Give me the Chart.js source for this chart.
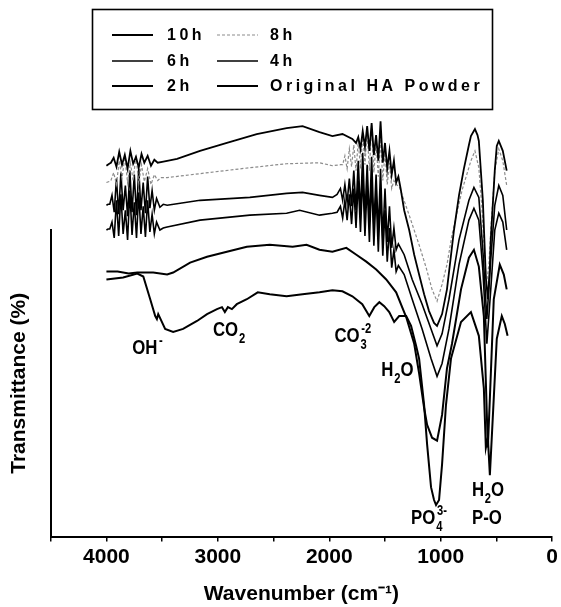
<!DOCTYPE html>
<html>
<head>
<meta charset="utf-8">
<script src="https://cdn.jsdelivr.net/npm/chart.js@4"></script>
<style>
  html, body { margin: 0; padding: 0; background: #fff; }
  #wrap { width: 561px; height: 607px; }
</style>
</head>
<body>
<div id="wrap"><canvas id="ftir"></canvas></div>
<script>
// FTIR spectra, [wavenumber cm-1, transmittance (offset, a.u.)]
const seriesLabels = ["10h", "8h", "6h", "4h", "2h", "Original HA Powder"];

const h10 = [
  [4000,375],[3975,377],
  [3960,378],[3935,383],[3910,374],[3885,389],[3860,376],[3835,386],[3810,372],[3785,390],[3760,377],[3735,384],
  [3710,373],[3685,387],[3660,378],[3630,385],[3600,375],[3570,381],[3540,378],[3500,379],
  [3455,380],[3366,382],[3160,390],[2919,398],[2651,407],[2383,413],[2240,415],[2088,409],[1972,405],[1882,407],[1793,402],
  [1760,398],[1740,404],[1720,392],[1700,410],[1680,394],[1660,415],[1640,390],[1620,418],[1600,386],[1580,406],
  [1560,380],[1540,420],[1520,378],[1500,398],[1480,372],[1460,390],[1440,366],[1420,380],[1400,358],[1380,364],[1360,352],
  [1328,330],[1283,310],[1238,285],[1194,265],[1149,245],[1105,228],[1060,216],[1033,213],[988,225],[944,250],
  [881,310],[836,345],[792,372],[747,396],[729,405],[693,412],[670,406],[658,400],[622,340],[595,262],[577,240],
  [560,270],[551,300],[515,370],[497,395],[479,400],[443,390],[408,370]
];

const h8 = [
  [4000,358],[3975,359],
  [3960,360],[3935,368],[3910,356],[3885,380],[3860,362],[3835,384],[3810,358],[3785,378],[3760,360],[3735,386],
  [3710,357],[3685,376],[3660,359],[3630,372],[3600,356],[3570,366],[3540,360],[3510,363],
  [3455,363],[3160,367],[2713,373],[2383,377],[2088,378],[1972,375],[1900,376],
  [1880,376],[1860,385],[1840,372],[1820,392],[1800,374],[1780,396],[1760,370],[1740,400],[1720,372],[1700,406],
  [1680,376],[1660,410],[1640,370],[1620,416],[1600,368],[1580,398],[1560,364],[1540,402],[1520,360],[1500,388],
  [1480,356],[1460,378],[1440,352],[1420,360],[1400,356],
  [1373,354],[1283,325],[1194,295],[1131,272],[1078,250],[1033,238],[988,255],[944,275],[899,305],[809,350],
  [729,380],[693,390],[658,373],[631,333],[613,297],[590,255],[568,275],[551,310],[515,370],[479,392],[443,380],[408,355]
];

const h6 = [
  [4000,335],[3985,336],
  [3970,336],[3950,345],[3930,328],[3910,362],[3890,326],[3870,368],[3850,330],[3830,355],[3810,324],[3790,370],
  [3770,328],[3750,366],[3730,325],[3710,372],[3690,330],[3670,358],[3650,327],[3630,364],[3610,332],[3590,350],
  [3570,330],[3550,342],[3520,333],[3490,336],
  [3455,335],[3160,340],[2713,343],[2383,347],[2240,348],[2088,345],[1972,343],
  [1930,346],[1900,352],[1880,340],[1860,356],[1840,338],[1820,362],[1800,334],[1780,370],[1760,330],[1740,380],
  [1720,326],[1700,388],[1680,324],[1660,376],[1640,318],[1620,384],[1600,314],[1580,366],[1560,308],[1540,372],
  [1520,302],[1500,352],[1480,298],[1460,334],[1440,292],[1420,312],[1400,290],[1380,296],
  [1328,285],[1256,260],[1167,235],[1087,210],[1033,193],[988,205],[926,240],[836,300],[747,340],[702,353],
  [658,343],[622,290],[586,220],[551,280],[515,335],[479,355],[443,345],[408,310]
];

const h4 = [
  [4000,310],[3985,311],
  [3970,311],[3950,318],[3930,302],[3910,340],[3890,304],[3870,346],[3850,306],[3830,330],[3810,300],[3790,350],
  [3770,305],[3750,338],[3730,302],[3710,348],[3690,306],[3670,334],[3650,303],[3630,340],[3610,308],[3590,326],
  [3570,306],[3550,318],[3520,310],[3490,312],
  [3455,313],[3160,320],[2713,325],[2383,327],[2266,330],[2088,325],[1972,327],
  [1930,328],[1900,334],[1880,322],[1860,340],[1840,320],[1820,346],[1800,316],[1780,352],[1760,312],[1740,360],
  [1720,308],[1700,366],[1680,304],[1660,356],[1640,298],[1620,362],[1600,294],[1580,348],[1560,288],[1540,350],
  [1520,284],[1500,330],[1480,278],[1460,312],[1440,272],[1420,290],[1400,268],[1380,274],
  [1328,265],[1256,240],[1167,210],[1087,180],[1033,162],[988,175],[926,210],[836,275],[747,320],[702,332],
  [658,320],[622,270],[586,195],[551,250],[515,310],[479,327],[443,318],[408,290]
];

const h2 = [
  [4000,268],[3900,268],[3800,266],[3723,267],[3580,267],[3455,265],[3401,267],[3249,277],[3097,283],[2919,288],
  [2740,293],[2534,295],[2329,293],[2204,295],[2088,290],[1972,288],[1847,292],[1757,285],[1668,278],[1579,270],
  [1489,260],[1400,247],[1310,222],[1238,195],[1194,165],[1149,130],[1122,113],[1078,100],[1033,97],[988,123],
  [944,170],[899,195],[818,250],[747,282],[702,290],[658,273],[613,223],[577,90],[559,140],[524,240],[470,275],
  [434,265],[408,250]
];

const original = [
  [4000,260],[3850,262],[3723,266],[3669,263],[3607,240],[3562,223],[3547,220],[3535,225],[3473,210],[3401,207],
  [3312,210],[3187,218],[3097,225],[3008,230],[2963,232],[2937,227],[2910,232],[2874,230],[2830,235],[2740,240],
  [2642,247],[2534,245],[2383,243],[2240,245],[2088,247],[1972,249],[1882,248],[1793,243],[1704,235],[1641,223],
  [1596,232],[1551,237],[1507,233],[1462,227],[1418,217],[1373,223],[1310,223],[1266,213],[1221,193],[1194,180],
  [1149,133],[1122,93],[1087,50],[1060,37],[1042,32],[1015,37],[988,73],[953,133],[908,180],[818,217],[729,227],
  [658,203],[613,150],[595,90],[577,100],[559,62],[533,120],[497,200],[452,223],[425,215],[400,203]
];

const xTickValues = [4000, 3000, 2000, 1000, 0];

// band labels: [wavenumber, transmittance, main text, subscript, superscript, tail]
const bandLabels = [
  [3768, 185, "OH", "", "-", ""],
  [3044, 203, "CO", "2", "", ""],
  [1954, 197, "CO", "3", "-2", ""],
  [1534, 162, "H", "2", "", "O"],
  [1266, 13, "PO", "4", "3-", ""],
  [720, 41, "H", "2", "", "O"],
  [720, 13, "P-O", "", "", ""]
];

const FONT = "'Liberation Sans', Arial, sans-serif";
const toXY = (arr) => arr.map((p) => ({ x: p[0], y: p[1] }));

const styles = [
  { color: "#000", width: 1.8, dash: [] },
  { color: "#8c8c8c", width: 1.2, dash: [3, 2] },
  { color: "#000", width: 1.6, dash: [] },
  { color: "#000", width: 1.6, dash: [] },
  { color: "#000", width: 2, dash: [] },
  { color: "#000", width: 2, dash: [] }
];
const allSeries = [h10, h8, h6, h4, h2, original];

const boxLegend = {
  id: "boxLegend",
  afterDraw(chart) {
    const ctx = chart.ctx;
    ctx.save();
    ctx.strokeStyle = "#000";
    ctx.lineWidth = 1.6;
    ctx.strokeRect(92.5, 9.5, 400, 100);
    const rows = [35, 61, 86];
    chart.data.datasets.forEach((ds, i) => {
      const col = i % 2;
      const y = rows[Math.floor(i / 2)];
      const x0 = col ? 217 : 112;
      ctx.beginPath();
      ctx.strokeStyle = ds.borderColor;
      ctx.lineWidth = ds.borderWidth;
      ctx.setLineDash(ds.borderDash || []);
      ctx.moveTo(x0, y);
      ctx.lineTo(x0 + 41, y);
      ctx.stroke();
      ctx.setLineDash([]);
      ctx.fillStyle = "#000";
      ctx.font = "bold 16px " + FONT;
      ctx.letterSpacing = "3.5px";
      ctx.textBaseline = "middle";
      ctx.fillText(ds.label, col ? 270 : 167, y + 1);
      ctx.letterSpacing = "0px";
    });
    ctx.restore();
  }
};

const bandText = {
  id: "bandText",
  afterDraw(chart) {
    const { ctx, scales } = chart;
    ctx.save();
    ctx.fillStyle = "#000";
    ctx.textBaseline = "alphabetic";
    bandLabels.forEach(([wn, t, main, sub, sup, tail]) => {
      const px = scales.x.getPixelForValue(wn);
      const py = scales.y.getPixelForValue(t);
      ctx.save();
      ctx.translate(px, py);
      ctx.scale(0.8, 1);
      ctx.font = "bold 21px " + FONT;
      ctx.fillText(main, 0, 0);
      let x = ctx.measureText(main).width;
      ctx.font = "bold 14px " + FONT;
      let w = 0;
      if (sub) { ctx.fillText(sub, x + 1, 7); w = ctx.measureText(sub).width; }
      if (sup) { ctx.fillText(sup, x + 2, -9); w = Math.max(w, ctx.measureText(sup).width + 1); }
      x += w + 1;
      if (tail) {
        ctx.font = "bold 21px " + FONT;
        ctx.fillText(tail, x, 0);
      }
      ctx.restore();
    });
    ctx.restore();
  }
};

new Chart(document.getElementById("ftir"), {
  type: "line",
  data: {
    datasets: allSeries.map((s, i) => ({
      label: seriesLabels[i],
      data: toXY(s),
      borderColor: styles[i].color,
      borderWidth: styles[i].width,
      borderDash: styles[i].dash,
      pointRadius: 0,
      tension: 0,
      fill: false,
      clip: false
    }))
  },
  options: {
    responsive: true,
    maintainAspectRatio: false,
    animation: false,
    devicePixelRatio: 1,
    layout: { padding: { top: 230, right: 7, bottom: 0, left: 0 } },
    plugins: { legend: { display: false }, tooltip: { enabled: false } },
    scales: {
      x: {
        type: "linear",
        reverse: true,
        min: 0,
        max: 4500,
        grid: { display: true, drawOnChartArea: false, drawTicks: true, tickLength: 5, color: "#000", lineWidth: 1.5 },
        border: { display: true, color: "#000", width: 2 },
        ticks: {
          stepSize: 500,
          autoSkip: false,
          maxRotation: 0,
          padding: 3,
          color: "#000",
          font: { family: FONT, size: 21, weight: "bold" },
          callback: (v) => (xTickValues.includes(v) ? String(v) : "")
        },
        title: {
          display: true,
          text: "Wavenumber (cm\u207B\u00B9)",
          color: "#000",
          font: { family: FONT, size: 21, weight: "bold" },
          padding: { top: 9, bottom: 0 }
        }
      },
      y: {
        min: 0,
        max: 310,
        grid: { display: false, drawTicks: false },
        border: { display: true, color: "#000", width: 2 },
        ticks: { display: false },
        title: {
          display: true,
          text: "Transmittance (%)",
          color: "#000",
          font: { family: FONT, size: 21, weight: "bold" },
          padding: { top: 7, bottom: 18.5 }
        }
      }
    }
  },
  plugins: [boxLegend, bandText]
});
</script>
</body>
</html>
